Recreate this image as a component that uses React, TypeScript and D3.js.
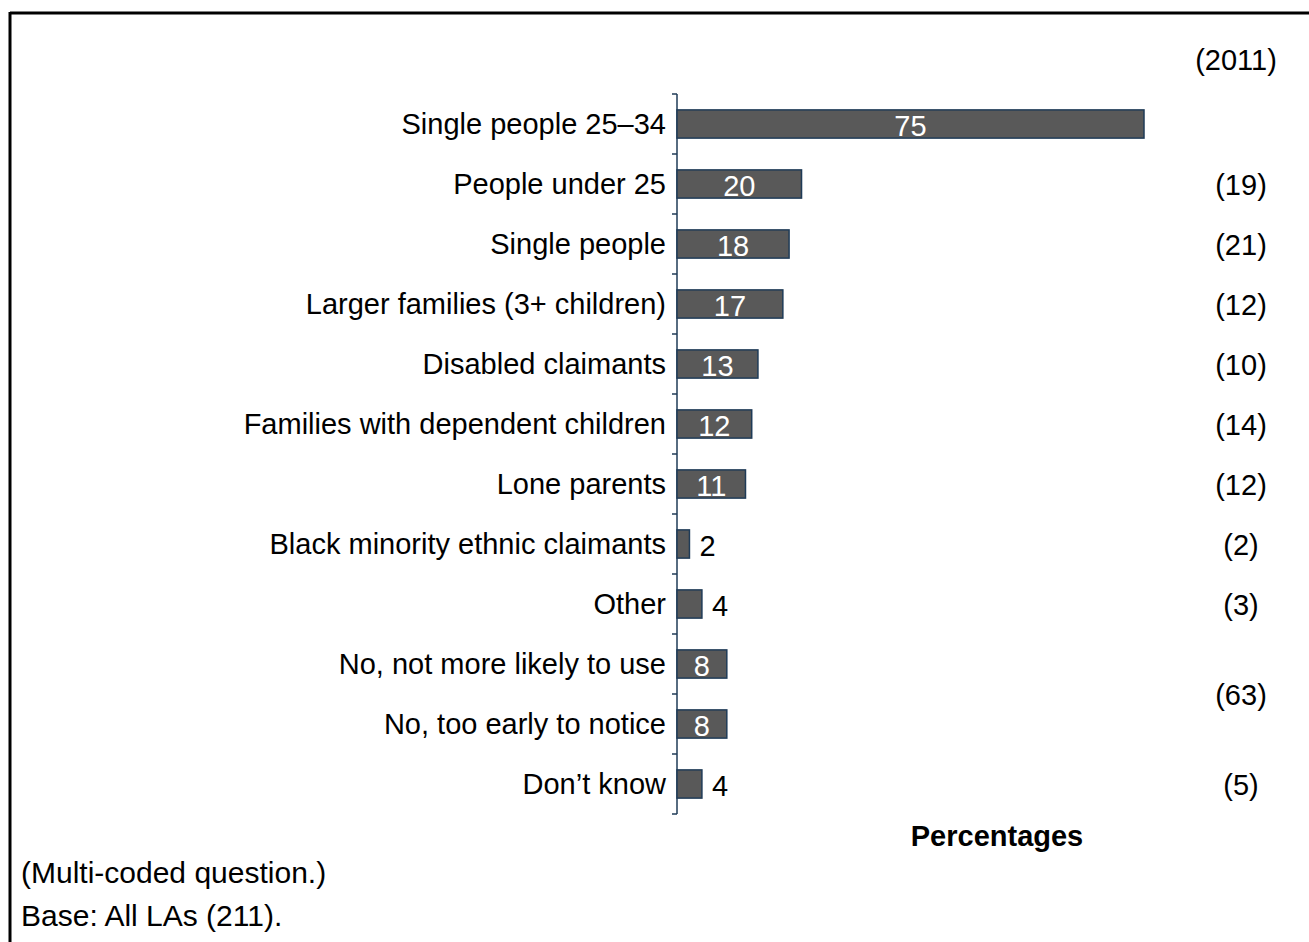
import React from "react";
import * as d3 from "d3";

const categories = [
  "Single people 25–34",
  "People under 25",
  "Single people",
  "Larger families (3+ children)",
  "Disabled claimants",
  "Families with dependent children",
  "Lone parents",
  "Black minority ethnic claimants",
  "Other",
  "No, not more likely to use",
  "No, too early to notice",
  "Don’t know",
];
const values = [75, 20, 18, 17, 13, 12, 11, 2, 4, 8, 8, 4];
// 2011 comparison values; each covers the listed categories
const prev2011 = [
  { value: 19, cats: ["People under 25"] },
  { value: 21, cats: ["Single people"] },
  { value: 12, cats: ["Larger families (3+ children)"] },
  { value: 10, cats: ["Disabled claimants"] },
  { value: 14, cats: ["Families with dependent children"] },
  { value: 12, cats: ["Lone parents"] },
  { value: 2, cats: ["Black minority ethnic claimants"] },
  { value: 3, cats: ["Other"] },
  { value: 63, cats: ["No, not more likely to use", "No, too early to notice"] },
  { value: 5, cats: ["Don’t know"] },
];
const prevHeader = "(2011)";
const unitLabel = "Percentages";
const notes = ["(Multi-coded question.)", "Base: All LAs (211)."];

const W = 1309;
const H = 942;
const FONT = "'Liberation Sans', Arial, sans-serif";
const FS = 29;

export default function App() {
  const axisX = 677;
  const x = d3.scaleLinear().domain([0, 75]).range([axisX, 1144]);
  const y = d3.scaleBand<string>().domain(categories).range([94, 814]).paddingInner(0.53).paddingOuter(0.265);
  const band = d3.scaleBand<string>().domain(categories).range([94, 814]);
  const tickYs = [94, ...categories.map((c) => (band(c) as number) + band.bandwidth())];
  const prevX = 1241;

  return (
    <svg width={W} height={H} style={{ position: "absolute", left: 0, top: 0 }} fontFamily={FONT}>
      <rect x={0} y={0} width={W} height={H} fill="#fff" />
      {/* frame */}
      <line x1={10} y1={13} x2={W} y2={13} stroke="#000" strokeWidth={3} />
      <line x1={10} y1={12} x2={10} y2={H} stroke="#000" strokeWidth={3} />

      {/* axis */}
      <line x1={axisX} y1={94} x2={axisX} y2={814} stroke="#1f3b57" strokeWidth={1.5} />
      {tickYs.map((t, i) => (
        <line key={i} x1={axisX - 5} x2={axisX} y1={t} y2={t} stroke="#1f3b57" strokeWidth={1.5} />
      ))}

      {categories.map((c, i) => {
        const by = y(c) as number;
        const bh = y.bandwidth();
        const cy = by + bh / 2;
        const v = values[i];
        const inside = v >= 8;
        return (
          <g key={c}>
            <text x={666} y={cy} dy="0.35em" textAnchor="end" fontSize={FS} fill="#000">
              {c}
            </text>
            <rect
              x={x(0)}
              y={by}
              width={x(v) - x(0)}
              height={bh}
              fill="#595959"
              stroke="#1f3b57"
              strokeWidth={1.5}
            />
            {inside ? (
              <text x={(x(0) + x(v)) / 2} y={cy + 2} dy="0.35em" textAnchor="middle" fontSize={FS} fill="#fff">
                {v}
              </text>
            ) : (
              <text x={x(v) + 10} y={cy + 2} dy="0.35em" textAnchor="start" fontSize={FS} fill="#000">
                {v}
              </text>
            )}
          </g>
        );
      })}

      <text x={1236} y={60} dy="0.35em" textAnchor="middle" fontSize={FS} fill="#000">
        {prevHeader}
      </text>
      {prev2011.map((p, i) => {
        const ys = p.cats.map((c) => (band(c) as number) + band.bandwidth() / 2);
        const cy = d3.mean(ys) as number;
        return (
          <text key={i} x={prevX} y={cy + 1} dy="0.35em" textAnchor="middle" fontSize={FS} fill="#000">
            ({p.value})
          </text>
        );
      })}

      <text x={997} y={836} dy="0.35em" textAnchor="middle" fontSize={FS} fontWeight="bold" fill="#000">
        {unitLabel}
      </text>
      {notes.map((n, i) => (
        <text key={i} x={21} y={872 + i * 43} dy="0.35em" fontSize={30} fill="#000">
          {n}
        </text>
      ))}
    </svg>
  );
}
